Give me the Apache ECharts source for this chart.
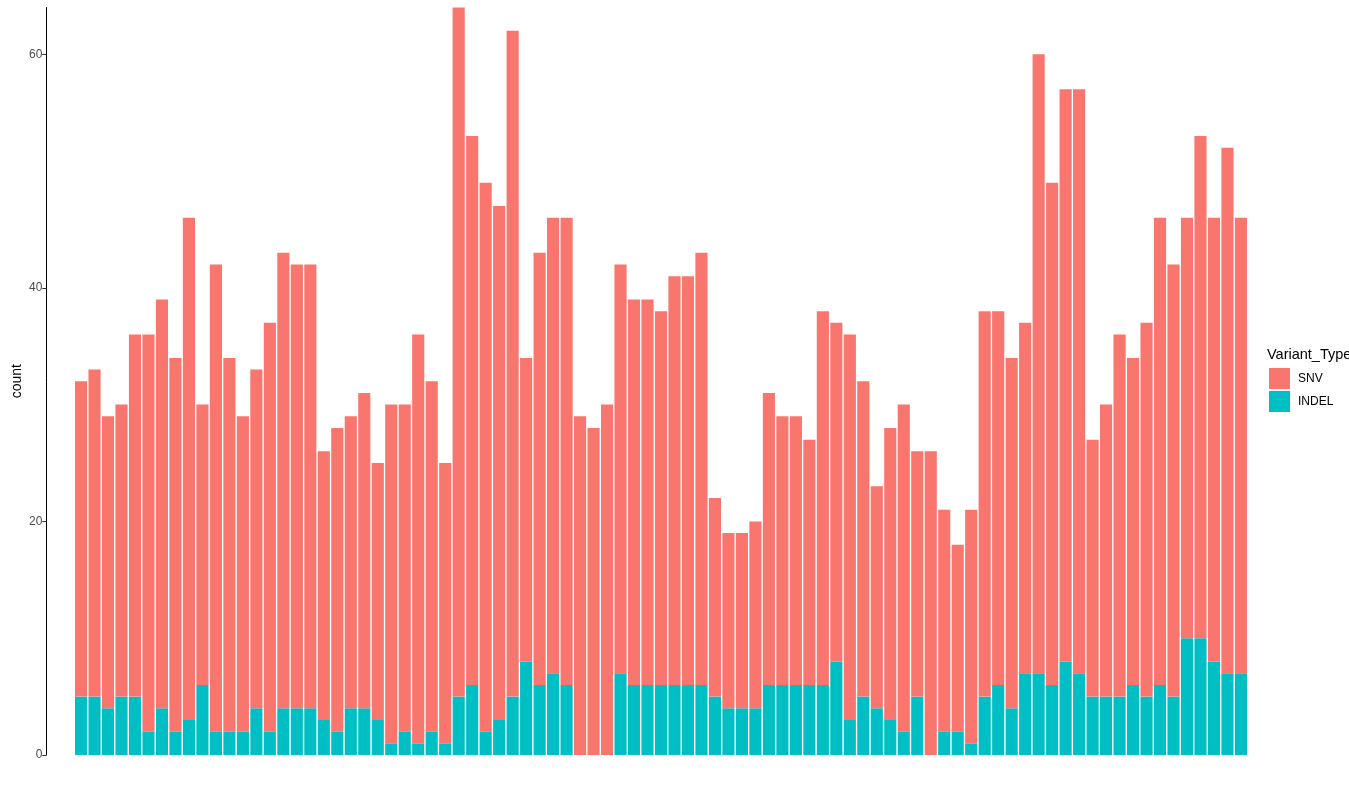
<!DOCTYPE html>
<html>
<head>
<meta charset="utf-8">
<script src="https://cdn.jsdelivr.net/npm/echarts@6/dist/echarts.min.js"></script>
<style>
  html, body { margin: 0; padding: 0; background: #fff; }
  #chart { width: 1349px; height: 785px; }
</style>
</head>
<body>
<div id="chart"></div>
<script>
// counts per sample (SNV on top, INDEL at the bottom)
const snv = [27, 28, 25, 25, 31, 34, 35, 32, 43, 24, 40, 32, 27, 29, 35, 39, 38, 38, 23, 26,
  25, 27, 22, 29, 28, 35, 30, 24, 59, 47, 47, 44, 57, 26, 37, 39, 40, 29, 28, 30,
  35, 33, 33, 32, 35, 35, 37, 17, 15, 15, 16, 25, 23, 23, 21, 32, 29, 33, 27, 19,
  25, 28, 21, 26, 19, 16, 20, 33, 32, 30, 30, 53, 43, 49, 50, 22, 25, 31, 28, 32,
  40, 37, 36, 43, 38, 45, 39];
const indel = [5, 5, 4, 5, 5, 2, 4, 2, 3, 6, 2, 2, 2, 4, 2, 4, 4, 4, 3, 2,
  4, 4, 3, 1, 2, 1, 2, 1, 5, 6, 2, 3, 5, 8, 6, 7, 6, 0, 0, 0,
  7, 6, 6, 6, 6, 6, 6, 5, 4, 4, 4, 6, 6, 6, 6, 6, 8, 3, 5, 4,
  3, 2, 5, 0, 2, 2, 1, 5, 6, 4, 7, 7, 6, 8, 7, 5, 5, 5, 6, 5,
  6, 5, 10, 10, 8, 7, 7];
const samples = snv.map((_, i) => 'S' + (i + 1));
const yTicks = [0, 20, 40, 60];

let myChart = echarts.init(document.getElementById('chart'));

let option = {
  animation: false,
  backgroundColor: '#fff',
  textStyle: { fontFamily: 'Liberation Sans, Arial, sans-serif' },
  grid: { left: 74.3, right: 101.3, top: 7.5, bottom: 30, outerBoundsMode: 'none', containLabel: false },
  legend: {
    data: ['SNV', 'INDEL'],
    orient: 'vertical',
    left: 1269,
    top: 368,
    padding: 0,
    itemWidth: 21,
    itemHeight: 21,
    itemGap: 2,
    icon: 'rect',
    textStyle: { color: '#000', fontSize: 12, padding: [0, 0, 0, 3] }
  },
  graphic: [{
    type: 'text',
    left: 1267,
    top: 347,
    style: { text: 'Variant_Type', fill: '#000', fontSize: 14.5, fontFamily: 'Liberation Sans, Arial, sans-serif' }
  }],
  xAxis: {
    type: 'category',
    data: samples,
    axisLine: { show: false },
    axisTick: { show: false },
    axisLabel: { show: false },
    splitLine: { show: false }
  },
  yAxis: {
    type: 'value',
    min: 0,
    max: 64,
    interval: 20,
    offset: 28,
    name: 'count',
    nameLocation: 'middle',
    nameGap: 22,
    nameMoveOverlap: false,
    nameTextStyle: { color: '#000', fontSize: 14 },
    axisLine: { show: true, lineStyle: { color: '#000', width: 1 } },
    axisTick: { show: true, length: 4, customValues: yTicks, lineStyle: { color: '#333' } },
    axisLabel: { customValues: yTicks, color: '#4D4D4D', fontSize: 12, margin: 4 },
    splitLine: { show: false }
  },
  series: [
    {
      name: 'INDEL',
      type: 'bar',
      stack: 'total',
      barCategoryGap: '10%',
      itemStyle: { color: '#00BFC4' },
      data: indel
    },
    {
      name: 'SNV',
      type: 'bar',
      stack: 'total',
      barCategoryGap: '10%',
      itemStyle: { color: '#F8766D' },
      data: snv
    }
  ]
};
myChart.setOption(option);
</script>
</body>
</html>
